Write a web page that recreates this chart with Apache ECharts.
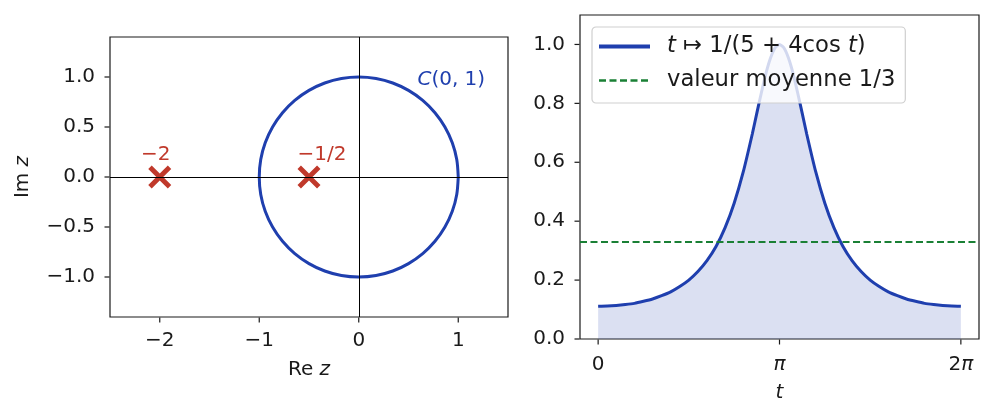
<!DOCTYPE html>
<html>

<head>
    <meta charset="utf-8" />
    <script src="https://cdn.jsdelivr.net/npm/echarts@6/dist/echarts.min.js"></script>
    <style>
        html, body { margin: 0; padding: 0; background: #fff; }
        #main { width: 994px; height: 419px; }
    </style>
</head>

<body>
    <div id="main"></div>
    <script>
        // left panel: unit circle C(0,1), points read every 10 degrees
        var circleRe = [1.000, 0.985, 0.940, 0.866, 0.766, 0.643, 0.500, 0.342, 0.174, 0.000,
            -0.174, -0.342, -0.500, -0.643, -0.766, -0.866, -0.940, -0.985, -1.000,
            -0.985, -0.940, -0.866, -0.766, -0.643, -0.500, -0.342, -0.174, 0.000,
            0.174, 0.342, 0.500, 0.643, 0.766, 0.866, 0.940, 0.985, 1.000];
        var circleIm = [0.000, 0.174, 0.342, 0.500, 0.643, 0.766, 0.866, 0.940, 0.985, 1.000,
            0.985, 0.940, 0.866, 0.766, 0.643, 0.500, 0.342, 0.174, 0.000,
            -0.174, -0.342, -0.500, -0.643, -0.766, -0.866, -0.940, -0.985, -1.000,
            -0.985, -0.940, -0.866, -0.766, -0.643, -0.500, -0.342, -0.174, 0.000];
        // poles (red crosses)
        var poleRe = [-2, -0.5];
        var poleIm = [0, 0];
        var poleLabels = ['−2', '−1/2'];

        var leftXTicks = [-2, -1, 0, 1];
        var leftYTicks = [-1, -0.5, 0, 0.5, 1];
        var leftXRange = [-2.5, 1.5];
        var leftYRange = [-1.4, 1.4];

        // right panel: t in units of pi
        var tPi = [0, 0.05, 0.1, 0.15, 0.2, 0.25, 0.3, 0.35, 0.4, 0.45, 0.5, 0.55, 0.6, 0.65,
            0.7, 0.75, 0.8, 0.85, 0.875, 0.9, 0.925, 0.95, 0.975, 1.0,
            1.025, 1.05, 1.075, 1.1, 1.125, 1.15, 1.2, 1.25, 1.3, 1.35, 1.4, 1.45, 1.5,
            1.55, 1.6, 1.65, 1.7, 1.75, 1.8, 1.85, 1.9, 1.95, 2.0];
        var fValues = [0.111, 0.112, 0.114, 0.117, 0.121, 0.128, 0.136, 0.147, 0.160, 0.178, 0.200, 0.229, 0.266, 0.314,
            0.378, 0.461, 0.567, 0.696, 0.767, 0.836, 0.901, 0.953, 0.988, 1.000,
            0.988, 0.953, 0.901, 0.836, 0.767, 0.696, 0.567, 0.461, 0.378, 0.314, 0.266, 0.229, 0.200,
            0.178, 0.160, 0.147, 0.136, 0.128, 0.121, 0.117, 0.114, 0.112, 0.111];
        var meanValue = 0.3333;

        var rightXTicks = [0, 1, 2];
        var rightXLabels = ['0', '{i|π}', '2{i|π}'];
        var rightYTicks = [0, 0.2, 0.4, 0.6, 0.8, 1.0];
        var rightXRange = [-0.1, 2.1];
        var rightYRange = [0, 1.1];

        var BLUE = '#1f3fae';
        var RED = '#c0392b';
        var GREEN = '#1a8035';
        var FONT = 'DejaVu Sans';
        var INK = '#1a1a1a';

        function minus(s) { return String(s).replace('-', '−'); }

        function axisBase(ticks, fmt, margin, range) {
            return {
                type: 'value',
                min: range[0], max: range[1],
                axisLine: { show: false, onZero: false },
                axisTick: { show: false },
                axisLabel: {
                    customValues: ticks, formatter: fmt, color: INK, fontFamily: FONT, fontSize: 20, margin: margin,
                    rich: { i: { fontStyle: 'italic', fontFamily: FONT, fontSize: 20, color: INK } }
                },
                splitLine: { show: false }
            };
        }

        // tick marks drawn as short bars just outside the frame
        function tickSeries(xi, yi, values, fixed, horizontal) {
            return {
                type: 'scatter', xAxisIndex: xi, yAxisIndex: yi, silent: true, clip: false,
                data: values.map(function (v) { return horizontal ? [v, fixed] : [fixed, v]; }),
                symbol: 'rect',
                symbolSize: horizontal ? [1.2, 5] : [5, 1.2],
                symbolOffset: horizontal ? [0, 3] : [-3, 0],
                itemStyle: { color: INK, opacity: 1 },
                z: 5
            };
        }

        var circleData = circleRe.map(function (x, i) { return [x, circleIm[i]]; });
        var poleData = poleRe.map(function (x, i) { return [x, poleIm[i]]; });
        var curveData = tPi.map(function (t, i) { return [t, fValues[i]]; });
        var poleLabelOffsets = [[-4, -22], [13, -22]];

        var nameStyle = { color: INK, fontFamily: FONT, fontSize: 20, rich: { i: { fontStyle: 'italic', fontFamily: FONT, fontSize: 20, color: INK } } };

        var xLeft = axisBase(leftXTicks, function (v) { return minus(v); }, 14, leftXRange);
        xLeft.gridIndex = 0;
        xLeft.name = 'Re {i|z}';
        xLeft.nameLocation = 'middle';
        xLeft.nameGap = 43;
        xLeft.nameTextStyle = nameStyle;

        var yLeft = axisBase(leftYTicks, function (v) { return minus(v.toFixed(1)); }, 15, leftYRange);
        yLeft.gridIndex = 0;
        yLeft.name = 'Im {i|z}';
        yLeft.nameLocation = 'middle';
        yLeft.nameGap = 77;
        yLeft.nameTextStyle = nameStyle;

        var xRight = axisBase(rightXTicks, function (v) { return rightXLabels[rightXTicks.indexOf(v)]; }, 16, rightXRange);
        xRight.gridIndex = 1;
        xRight.name = '{i|t}';
        xRight.nameLocation = 'middle';
        xRight.nameGap = 44;
        xRight.nameTextStyle = nameStyle;

        var yRight = axisBase(rightYTicks, function (v) { return v.toFixed(1); }, 15, rightYRange);
        yRight.gridIndex = 1;

        var option = {
            animation: false,
            backgroundColor: '#fff',
            grid: [
                { left: 110, top: 37, width: 398, height: 280, show: true, borderColor: INK, borderWidth: 1.2, backgroundColor: 'transparent' },
                { left: 580, top: 15, width: 399, height: 324, show: true, borderColor: INK, borderWidth: 1.2, backgroundColor: 'transparent' }
            ],
            xAxis: [xLeft, xRight],
            yAxis: [yLeft, yRight],
            legend: {
                left: 592, top: 27,
                orient: 'vertical',
                data: [
                    { name: 'f', lineStyle: { width: 4 } },
                    { name: 'moy', lineStyle: { width: 2.4 } }
                ],
                itemWidth: 51, itemHeight: 3, itemGap: 11,
                padding: [8, 10, 11, 5],
                backgroundColor: 'rgba(255,255,255,0.8)',
                borderColor: '#cfcfcf', borderWidth: 1.2, borderRadius: 4,
                itemStyle: { opacity: 0 },
                formatter: function (name) {
                    return name === 'f' ? '{i|t} ↦ 1/(5 + 4cos {i|t})' : 'valeur moyenne 1/3';
                },
                textStyle: {
                    color: INK, fontFamily: FONT, fontSize: 22.7, padding: [0, 0, 0, 12],
                    rich: { i: { fontStyle: 'italic', fontFamily: FONT, fontSize: 22.7, color: INK } }
                }
            },
            series: [
                {
                    // zero axes of the complex plane
                    type: 'line', xAxisIndex: 0, yAxisIndex: 0, data: [], silent: true,
                    markLine: {
                        symbol: 'none', silent: true, label: { show: false },
                        lineStyle: { color: '#000', width: 1, type: 'solid' },
                        data: [{ xAxis: 0 }, { yAxis: 0 }]
                    }
                },
                tickSeries(0, 0, leftXTicks, leftYRange[0], true),
                tickSeries(0, 0, leftYTicks, leftXRange[0], false),
                tickSeries(1, 1, rightXTicks, rightYRange[0], true),
                tickSeries(1, 1, rightYTicks, rightXRange[0], false),
                {
                    name: 'circle', type: 'line', xAxisIndex: 0, yAxisIndex: 0,
                    data: circleData, showSymbol: false, smooth: 0.3,
                    lineStyle: { color: BLUE, width: 3 }, z: 3
                },
                {
                    name: 'poles', type: 'scatter', xAxisIndex: 0, yAxisIndex: 0,
                    data: poleData.map(function (p, i) {
                        return {
                            value: p,
                            label: { show: true, formatter: poleLabels[i], position: 'inside', offset: poleLabelOffsets[i] }
                        };
                    }),
                    symbol: 'path://M3,0 L10,7 L17,0 L20,3 L13,10 L20,17 L17,20 L10,13 L3,20 L0,17 L7,10 L0,3 Z',
                    symbolSize: 23,
                    itemStyle: { color: RED, opacity: 1 },
                    label: { color: RED, fontFamily: FONT, fontSize: 20, textBorderWidth: 0 },
                    z: 4
                },
                {
                    // C(0,1) annotation
                    type: 'scatter', xAxisIndex: 0, yAxisIndex: 0, symbolSize: 0,
                    data: [[0.93, 0.97]],
                    itemStyle: { color: BLUE, opacity: 1 },
                    label: {
                        show: true, position: 'inside', formatter: '{i|C}(0, 1)',
                        color: BLUE, fontFamily: FONT, fontSize: 20, textBorderWidth: 0,
                        rich: { i: { fontStyle: 'italic', color: BLUE, fontFamily: FONT, fontSize: 20, textBorderWidth: 0 } }
                    }
                },
                {
                    name: 'f', type: 'line', xAxisIndex: 1, yAxisIndex: 1,
                    data: curveData, showSymbol: false, symbol: 'none', smooth: 0.2,
                    lineStyle: { color: BLUE, width: 3 },
                    itemStyle: { color: BLUE },
                    areaStyle: { color: 'rgba(31,63,174,0.16)', opacity: 1, origin: 'start' },
                    z: 3
                },
                {
                    name: 'moy', type: 'line', xAxisIndex: 1, yAxisIndex: 1,
                    data: [], symbol: 'none',
                    lineStyle: { color: GREEN, width: 2, type: [7, 3.5] },
                    itemStyle: { color: GREEN },
                    markLine: {
                        symbol: 'none', silent: true, label: { show: false },
                        lineStyle: { color: GREEN, width: 2, type: [7, 3.5] },
                        data: [{ yAxis: meanValue }]
                    },
                    z: 4
                }
            ]
        };

        var chart = echarts.init(document.getElementById('main'));
        chart.setOption(option);
    </script>
</body>

</html>
